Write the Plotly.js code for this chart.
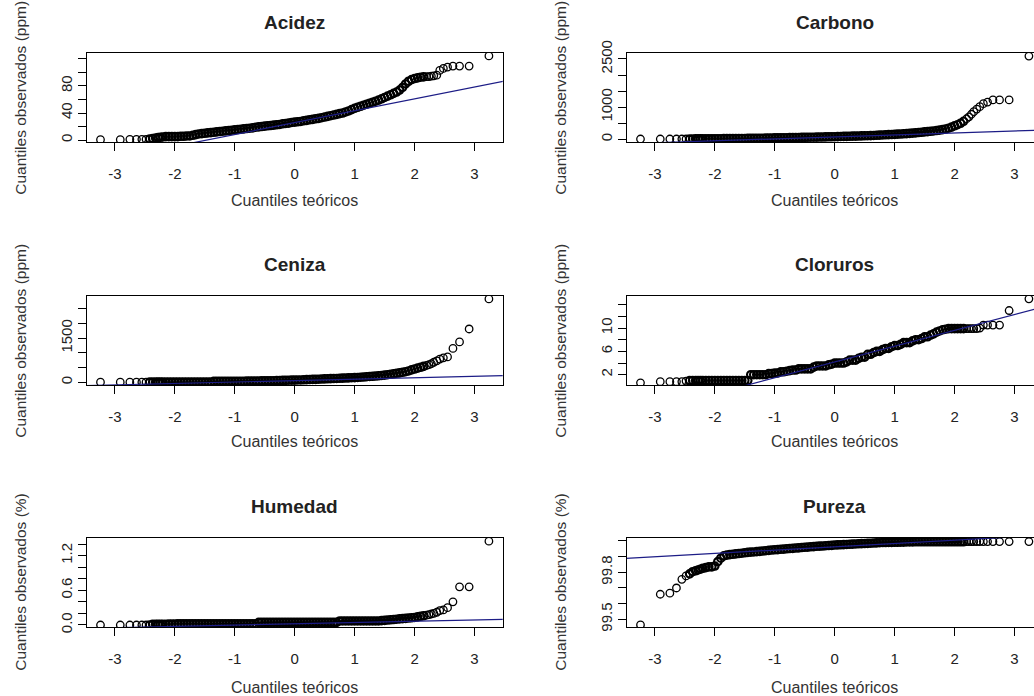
<!DOCTYPE html>
<html>
<head>
<meta charset="utf-8">
<script src="https://cdn.plot.ly/plotly-3.0.1.min.js"></script>
<style>
  html, body { margin: 0; padding: 0; background: #ffffff; overflow: hidden; width: 1034px; height: 696px; }
  #chart { width: 1050px; height: 696px; }
</style>
</head>
<body>
<div id="chart"></div>
<script>
// ---------- DATA ----------
const titulos = ["Acidez", "Carbono", "Ceniza", "Cloruros", "Humedad", "Pureza"];
const etiquetasY = [
  "Cuantiles observados (ppm)", "Cuantiles observados (ppm)",
  "Cuantiles observados (ppm)", "Cuantiles observados (ppm)",
  "Cuantiles observados (%)", "Cuantiles observados (%)"
];
const etiquetaX = "Cuantiles teóricos";

// theoretical normal quantiles (shared by all six panels)
const cuantilesTeoricos = [
  -3.24,-2.91,-2.75,-2.64,-2.55,-2.48,-2.42,-2.37,-2.32,-2.28,-2.24,-2.20,
  -2.15,-2.10,-2.05,-2.00,-1.95,-1.90,-1.85,-1.80,-1.75,-1.70,
  -1.65,-1.60,-1.55,-1.50,-1.45,-1.40,-1.35,-1.30,-1.25,-1.20,
  -1.15,-1.10,-1.05,-1.00,-0.95,-0.90,-0.85,-0.80,-0.75,-0.70,
  -0.65,-0.60,-0.55,-0.50,-0.45,-0.40,-0.35,-0.30,-0.25,-0.20,
  -0.15,-0.10,-0.05,0.00,0.05,0.10,0.15,0.20,0.25,0.30,
  0.35,0.40,0.45,0.50,0.55,0.60,0.65,0.70,0.75,0.80,
  0.85,0.90,0.95,1.00,1.05,1.10,1.15,1.20,1.25,1.30,
  1.35,1.40,1.45,1.50,1.55,1.60,1.65,1.70,1.75,1.80,
  1.85,1.90,1.95,2.00,2.05,2.10,2.15,
  2.20,2.24,2.28,2.32,2.37,2.42,2.48,2.55,2.64,2.75,2.91,3.24
];

const acidez = [
  0.5,0.5,1,1,1,1,1.5,2,3,3.5,4,4.5,
  5,5,5,5,5,5.5,5.5,6,6,7,
  8,9,9.5,10,10.5,11,11.5,12,12.5,13,
  13.5,14,14.5,15,15.5,16,16.5,17,17.5,18,
  19,19.5,20,20.5,21,21.5,22,22.5,23,24,
  24.5,25,26,26.5,27,27.5,28.5,29,30,30.5,
  31.5,32,33,34,35,36,37,38,39,40,
  41.5,43,45,47,48.5,50,51.5,53,54.5,56,
  57.5,59,61,63,65,67,69,71,74,78,
  83,87,89.5,91,92,93,93.5,
  94,94,94.5,95,96,103,106,108,109.5,109.5,109.5,124.5
];
const carbono = [
  10,10,10,10,10,10,12,12,15,15,15,15,
  15,15,15,18,18,18,20,20,20,22,
  22,25,25,25,28,28,30,30,32,35,
  40,40,42,45,45,48,50,50,52,55,
  55,58,60,60,62,65,65,68,70,72,
  75,78,80,82,85,88,90,92,95,98,
  100,103,106,110,113,116,120,125,130,135,
  140,145,150,155,160,165,172,178,185,192,
  200,210,220,230,240,250,260,272,285,300,
  320,345,380,420,455,500,560,
  640,700,780,860,940,1015,1110,1160,1225,1225,1225,2590
];
const ceniza = [
  5,5,5,5,5,5,5,5,5,5,5,5,
  5,5,5,5,5,5,5,5,5,5,
  5,5,5,5,5,10,30,30,30,30,
  30,30,30,35,35,35,35,40,40,40,
  45,45,50,50,50,55,55,60,60,65,
  65,70,75,75,80,80,85,90,95,100,
  100,105,110,115,120,125,128,130,135,140,
  145,150,155,160,165,172,180,190,198,205,
  212,220,232,245,258,272,288,305,320,340,
  360,385,420,450,480,510,540,
  570,600,630,680,730,790,830,860,1150,1370,1810,2830
];
const cloruros = [
  0.6,0.8,0.8,0.8,0.8,0.9,1,1,1,1,1,1,
  1,1,1,1,1,1,1,1,1,1,
  1,1,1,1,1,2,2,2,2,2,
  2,2.2,2.2,2.3,2.3,2.5,2.5,2.6,2.7,2.8,
  2.8,3,3,3,3,3,3.3,3.5,3.5,3.5,
  3.5,3.7,3.8,4,4,4,4,4.2,4.5,4.5,
  4.5,4.8,5,5,5.5,5.5,5.8,6,6,6.3,
  6.5,6.5,6.8,7,7,7.2,7.5,7.5,7.5,7.8,
  8,8,8.2,8.5,8.5,8.8,9,9.3,9.5,9.7,
  9.8,9.9,9.9,9.9,9.9,9.9,9.9,
  9.9,9.9,9.9,9.9,9.9,10,10.5,10.5,10.5,10.5,13,15
];
const humedad = [
  0,0,0,0,0,0,0,0.01,0.01,0.01,0.01,0.01,
  0.01,0.015,0.015,0.015,0.02,0.02,0.02,0.02,0.02,0.02,
  0.02,0.02,0.02,0.02,0.02,0.02,0.02,0.02,0.02,0.02,
  0.02,0.02,0.02,0.02,0.02,0.02,0.02,0.02,0.02,0.02,
  0.02,0.045,0.045,0.045,0.045,0.045,0.045,0.045,0.045,0.045,
  0.045,0.045,0.045,0.045,0.045,0.045,0.045,0.045,0.045,0.045,
  0.045,0.045,0.045,0.045,0.045,0.045,0.045,0.045,0.07,0.07,
  0.07,0.07,0.07,0.07,0.07,0.07,0.07,0.07,0.07,0.07,
  0.07,0.07,0.075,0.08,0.085,0.09,0.095,0.1,0.105,0.11,
  0.115,0.12,0.125,0.13,0.14,0.15,0.16,
  0.17,0.18,0.19,0.2,0.22,0.25,0.26,0.3,0.4,0.66,0.66,1.45
];
const pureza = [
  99.464,99.66,99.667,99.70,99.755,99.777,99.79,99.804,99.81,99.815,99.82,99.826,
  99.83,99.835,99.835,99.84,99.868,99.89,99.905,99.91,99.913,99.915,
  99.918,99.92,99.922,99.925,99.927,99.929,99.93,99.932,99.934,99.936,
  99.938,99.94,99.942,99.944,99.945,99.947,99.948,99.95,99.952,99.953,
  99.955,99.956,99.958,99.96,99.961,99.963,99.964,99.966,99.967,99.968,
  99.97,99.971,99.972,99.974,99.975,99.976,99.977,99.978,99.979,99.98,
  99.981,99.982,99.983,99.984,99.985,99.986,99.987,99.988,99.989,99.99,
  99.99,99.991,99.991,99.992,99.992,99.993,99.993,99.994,99.994,99.994,
  99.995,99.995,99.995,99.995,99.995,99.995,99.995,99.995,99.995,99.995,
  99.995,99.995,99.995,99.995,99.995,99.995,99.995,
  99.996,99.996,99.996,99.996,99.996,99.996,99.996,99.996,99.996,99.996,99.996,99.996
];
const observados = [acidez, carbono, ceniza, cloruros, humedad, pureza];

// qqline (reference line) parameters
const interceptos = [25.7, 75, 58, 4.17, 0.021, 99.963];
const pendientes  = [17.56, 61, 48.5, 2.71, 0.0223, 0.0211];

// axis ticks
const ticksX = [-3, -2, -1, 0, 1, 2, 3];
const textoTicksX = ["-3", "-2", "-1", "0", "1", "2", "3"];
const ticksY = [
  [0, 20, 40, 60, 80, 100, 120],
  [0, 500, 1000, 1500, 2000, 2500],
  [0, 500, 1000, 1500, 2000, 2500],
  [2, 4, 6, 8, 10, 12, 14],
  [0, 0.2, 0.4, 0.6, 0.8, 1.0, 1.2, 1.4],
  [99.5, 99.6, 99.7, 99.8, 99.9, 100.0]
];
const textoTicksY = [
  ["0", "", "40", "", "80", "", ""],
  ["0", "", "1000", "", "", "2500"],
  ["0", "", "", "1500", "", ""],
  ["2", "", "6", "", "10", "", ""],
  ["0.0", "", "", "0.6", "", "", "1.2", ""],
  ["99.5", "", "", "99.8", "", ""]
];

// ---------- LAYOUT (pixel geometry of the reference) ----------
const W = 1050, H = 696;
const FONT = "Liberation Sans, Arial, Helvetica, sans-serif";
const colsPx = [[86.7, 502.7], [626.7, 1042.7]];
const rowsPx = [[52.7, 142.3], [295.7, 385.3], [537.7, 627.3]];
const yRanges = [[-3.4, 129.3], [-93, 2695], [-102, 2940], [0.18, 15.54], [-0.04, 1.51], [99.449, 100.021]];
const xRange = [-3.47, 3.47];
const titleY = [22, 264.5, 506];
const xTitleY = [201, 441, 687];

// the many overlapping points of the dense middle read as a solid band
const anchoBorde = cuantilesTeoricos.map(q => (q >= -2.42 && q <= 2.15) ? 2.1 : 1.3);

const traces = [];
const layout = {
  width: W, height: H,
  margin: {l: 0, r: 0, t: 0, b: 0, pad: 0},
  paper_bgcolor: "#ffffff", plot_bgcolor: "#ffffff",
  showlegend: false,
  font: {family: FONT, color: "#222"},
  annotations: []
};

for (let i = 0; i < 6; i++) {
  const col = i % 2, row = Math.floor(i / 2);
  const n = i + 1;
  const xa = "x" + (n === 1 ? "" : n), ya = "y" + (n === 1 ? "" : n);
  const [x0, x1] = colsPx[col];
  const [y0, y1] = rowsPx[row];

  layout["xaxis" + (n === 1 ? "" : n)] = {
    domain: [x0 / W, x1 / W], anchor: ya, range: xRange,
    tickmode: "array", tickvals: ticksX, ticktext: textoTicksX,
    ticks: "outside", ticklen: 8, tickwidth: 1, tickcolor: "#000",
    ticklabelstandoff: 10,
    showline: true, linecolor: "#000", linewidth: 1, mirror: true,
    showgrid: false, zeroline: false, fixedrange: true,
    tickfont: {family: FONT, size: 15, color: "#222"}
  };
  layout["yaxis" + (n === 1 ? "" : n)] = {
    domain: [1 - y1 / H, 1 - y0 / H], anchor: xa, range: yRanges[i],
    tickmode: "array", tickvals: ticksY[i], ticktext: textoTicksY[i],
    tickangle: -90,
    ticks: "outside", ticklen: 8, tickwidth: 1, tickcolor: "#000",
    showline: true, linecolor: "#000", linewidth: 1, mirror: true,
    showgrid: false, zeroline: false, fixedrange: true,
    tickfont: {family: FONT, size: 15, color: "#222"}
  };

  traces.push({
    type: "scatter", mode: "markers", xaxis: xa, yaxis: ya,
    x: cuantilesTeoricos, y: observados[i],
    marker: {symbol: "circle-open", size: 7.5, color: "#000", line: {width: anchoBorde, color: "#000"}},
    hoverinfo: "skip"
  });
  const lx = [-4, 4];
  traces.push({
    type: "scatter", mode: "lines", xaxis: xa, yaxis: ya,
    x: lx, y: lx.map(v => interceptos[i] + pendientes[i] * v),
    line: {color: "#1c1c86", width: 1.2}, hoverinfo: "skip"
  });

  const cx = (x0 + x1) / 2 / W;
  layout.annotations.push({
    xref: "paper", yref: "paper", x: cx, y: 1 - titleY[row] / H,
    xanchor: "center", yanchor: "middle", showarrow: false,
    text: "<b>" + titulos[i] + "</b>", font: {family: FONT, size: 19, color: "#222"}
  });
  layout.annotations.push({
    xref: "paper", yref: "paper", x: cx, y: 1 - xTitleY[row] / H,
    xanchor: "center", yanchor: "middle", showarrow: false,
    text: etiquetaX, font: {family: FONT, size: 16, color: "#333"}
  });
  layout.annotations.push({
    xref: "paper", yref: "paper", x: (x0 - 66.5) / W, y: 1 - ((y0 + y1) / 2) / H,
    xanchor: "center", yanchor: "middle", showarrow: false, textangle: -90,
    text: etiquetasY[i], font: {family: FONT, size: 15.5, color: "#333"}
  });
}

Plotly.newPlot("chart", traces, layout, {displayModeBar: false, staticPlot: true});
</script>
</body>
</html>
